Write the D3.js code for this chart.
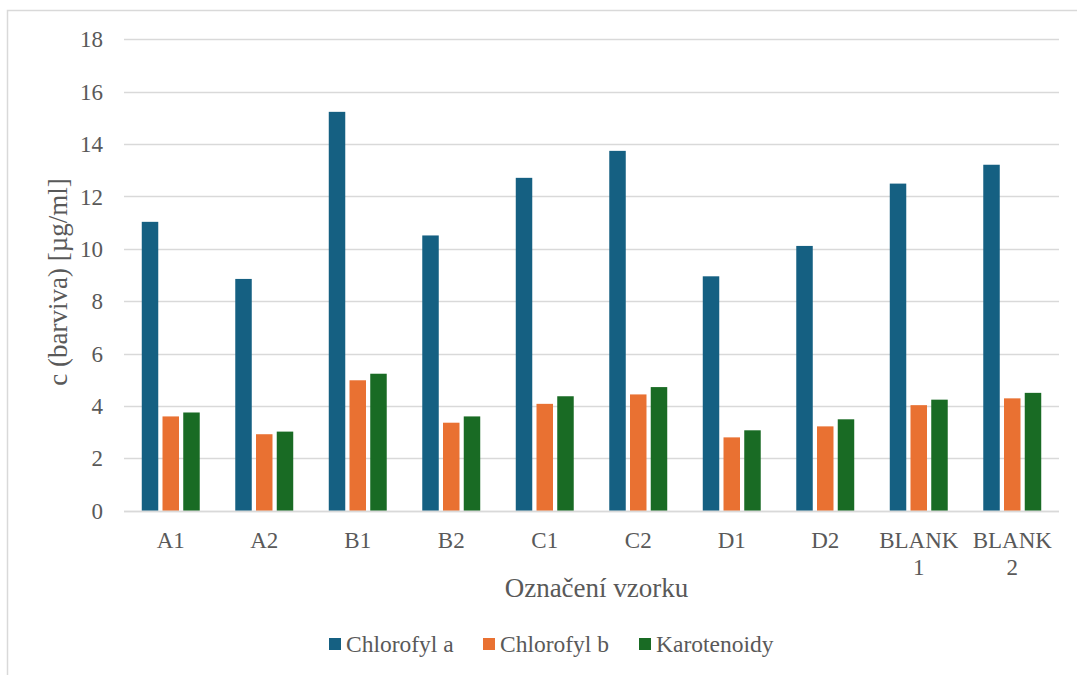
<!DOCTYPE html>
<html>
<head>
<meta charset="utf-8">
<script src="https://cdn.jsdelivr.net/npm/d3@7/dist/d3.min.js"></script>
<style>
  html, body { margin: 0; padding: 0; background: #ffffff; }
  svg { display: block; }
  text { font-family: "Liberation Serif", "Times New Roman", serif; fill: #595959; }
</style>
</head>
<body>
<svg id="chart" width="1077" height="675"></svg>
<script>
// Sample labels and pigment concentrations (µg/ml)
const categories = ["A1", "A2", "B1", "B2", "C1", "C2", "D1", "D2", "BLANK 1", "BLANK 2"];
const seriesNames = ["Chlorofyl a", "Chlorofyl b", "Karotenoidy"];
const chlorofylA = [11.03, 8.85, 15.23, 10.51, 12.71, 13.74, 8.95, 10.11, 12.49, 13.21];
const chlorofylB = [3.60, 2.92, 4.98, 3.36, 4.08, 4.44, 2.80, 3.22, 4.03, 4.29];
const karotenoidy = [3.75, 3.02, 5.23, 3.60, 4.37, 4.72, 3.07, 3.49, 4.24, 4.50];
const yTicks = [0, 2, 4, 6, 8, 10, 12, 14, 16, 18];
const seriesColors = ["#156082", "#E97132", "#196B24"];

const seriesValues = [chlorofylA, chlorofylB, karotenoidy];
const rows = categories.map((c, i) => ({
  category: c,
  values: seriesNames.map((s, j) => ({ series: s, value: seriesValues[j][i] }))
}));

const svg = d3.select("#chart");

// Chart frame
svg.append("rect")
  .attr("x", 7.5).attr("y", 10.5)
  .attr("width", 1090).attr("height", 700)
  .attr("fill", "#ffffff")
  .attr("stroke", "#d9d9d9")
  .attr("stroke-width", 1.5);

const plot = { left: 124, right: 1059, top: 39.3, bottom: 510.7 };

const x = d3.scaleBand()
  .domain(categories)
  .range([plot.left, plot.right])
  .paddingInner(0.38)
  .paddingOuter(0.19);

const xSeries = d3.scaleBand()
  .domain(seriesNames)
  .range([0, x.bandwidth()])
  .paddingInner(0.205)
  .paddingOuter(0);

const y = d3.scaleLinear()
  .domain([0, 18])
  .range([plot.bottom, plot.top]);

const color = d3.scaleOrdinal().domain(seriesNames).range(seriesColors);

// Horizontal gridlines
svg.append("g")
  .selectAll("line")
  .data(yTicks)
  .join("line")
  .attr("x1", plot.left).attr("x2", plot.right)
  .attr("y1", d => Math.round(y(d)) + 0.5)
  .attr("y2", d => Math.round(y(d)) + 0.5)
  .attr("stroke", "#d9d9d9")
  .attr("stroke-width", 1.5);

// Y axis tick labels
const yAxis = d3.axisLeft(y).tickValues(yTicks).tickSize(0).tickPadding(0);
const yAxisG = svg.append("g")
  .attr("transform", `translate(${plot.left - 21},0)`)
  .call(yAxis);
yAxisG.select(".domain").remove();
yAxisG.selectAll("text")
  .attr("font-size", 23)
  .attr("font-family", "Liberation Serif")
  .attr("fill", "#595959")
  .attr("dy", "0.33em");

// Bars
const groups = svg.append("g")
  .selectAll("g")
  .data(rows)
  .join("g")
  .attr("transform", d => `translate(${x(d.category)},0)`);

groups.selectAll("rect")
  .data(d => d.values)
  .join("rect")
  .attr("x", d => xSeries(d.series))
  .attr("width", xSeries.bandwidth())
  .attr("y", d => y(d.value))
  .attr("height", d => y(0) - y(d.value))
  .attr("fill", d => color(d.series));

// Baseline
svg.append("line")
  .attr("x1", plot.left).attr("x2", plot.right)
  .attr("y1", Math.round(y(0)) + 0.5).attr("y2", Math.round(y(0)) + 0.5)
  .attr("stroke", "#d9d9d9")
  .attr("stroke-width", 1.5);

// Category labels (two-word labels wrap onto two lines)
const xLabels = svg.append("g")
  .selectAll("text")
  .data(categories)
  .join("text")
  .attr("x", d => x(d) + x.bandwidth() / 2)
  .attr("y", 548)
  .attr("text-anchor", "middle")
  .attr("font-size", 23);
xLabels.each(function(d) {
  const parts = d.split(" ");
  const t = d3.select(this);
  parts.forEach((p, i) => {
    t.append("tspan")
      .attr("x", x(d) + x.bandwidth() / 2)
      .attr("dy", i === 0 ? 0 : 27)
      .text(p);
  });
});

// Axis titles
svg.append("text")
  .attr("x", (plot.left + plot.right) / 2 + 5)
  .attr("y", 597)
  .attr("text-anchor", "middle")
  .attr("font-size", 27)
  .text("Označení vzorku");

svg.append("text")
  .attr("transform", "translate(67,282) rotate(-90)")
  .attr("text-anchor", "middle")
  .attr("font-size", 27)
  .text("c (barviva) [µg/ml]");

// Legend
const legendItems = [
  { name: seriesNames[0], x: 329 },
  { name: seriesNames[1], x: 483 },
  { name: seriesNames[2], x: 639 }
];
const legend = svg.append("g")
  .selectAll("g")
  .data(legendItems)
  .join("g")
  .attr("transform", d => `translate(${d.x},0)`);
legend.append("rect")
  .attr("x", 0).attr("y", 638)
  .attr("width", 12).attr("height", 12)
  .attr("fill", d => color(d.name));
legend.append("text")
  .attr("x", 17).attr("y", 651.5)
  .attr("font-size", 23.5)
  .text(d => d.name);
</script>
</body>
</html>
